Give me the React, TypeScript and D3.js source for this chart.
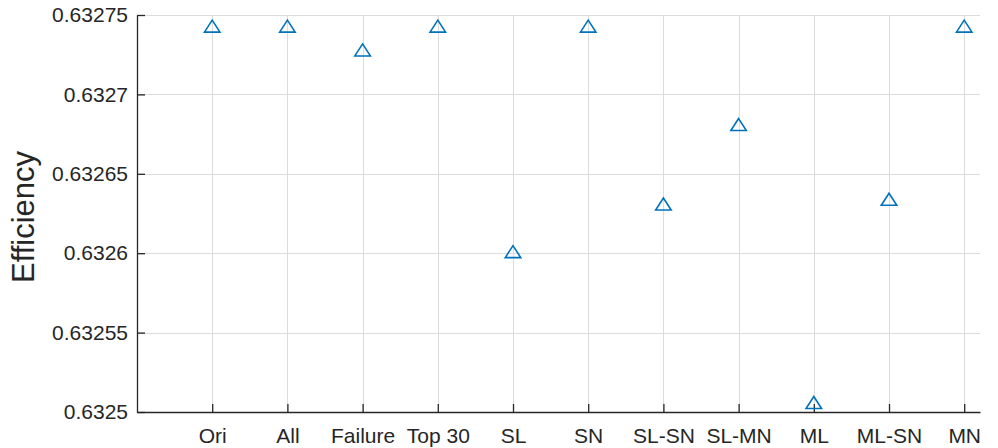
import React, { useEffect, useRef } from 'react';
import * as d3 from 'd3';

const categories = ['Ori', 'All', 'Failure', 'Top 30', 'SL', 'SN', 'SL-SN', 'SL-MN', 'ML', 'ML-SN', 'MN'];
const efficiency = [0.632743, 0.632743, 0.632728, 0.632743, 0.632601, 0.632743, 0.632631, 0.632681, 0.632506, 0.632634, 0.632743];
const yTicks = [0.6325, 0.63255, 0.6326, 0.63265, 0.6327, 0.63275];
const yTickLabels = ['0.6325', '0.63255', '0.6326', '0.63265', '0.6327', '0.63275'];

const w = 998;
const h = 448;
const left = 137;
const right = 980;
const top = 15;
const bottom = 412;
const font = '"Liberation Sans", Arial, Helvetica, sans-serif';
const ink = '#262626';

const App = () => {
  const svgRef = useRef(null);

  useEffect(() => {
    const svg = d3.select(svgRef.current);
    svg.selectAll('*').remove();

    const x = d3.scaleLinear().domain([0, 11.21]).range([left, right]);
    const y = d3.scaleLinear().domain([0.6325, 0.63275]).range([bottom, top]);
    const idx = categories.map((_, i) => i + 1);

    // grid
    const grid = svg.append('g').attr('stroke', '#dcdcdc').attr('stroke-width', 1);
    grid.selectAll('line.gx')
      .data(idx)
      .enter()
      .append('line')
      .attr('x1', (d) => Math.round(x(d)) + 0.5)
      .attr('x2', (d) => Math.round(x(d)) + 0.5)
      .attr('y1', top)
      .attr('y2', bottom);
    grid.selectAll('line.gy')
      .data(yTicks)
      .enter()
      .append('line')
      .attr('x1', left)
      .attr('x2', right)
      .attr('y1', (d) => Math.round(y(d)) + 0.5)
      .attr('y2', (d) => Math.round(y(d)) + 0.5);

    const xAxis = d3.axisBottom(x)
      .tickValues(idx)
      .tickFormat((d) => categories[d - 1])
      .tickSizeInner(-8)
      .tickSizeOuter(0)
      .tickPadding(16);

    const yAxis = d3.axisLeft(y)
      .tickValues(yTicks)
      .tickFormat((d, i) => yTickLabels[i])
      .tickSizeInner(-8)
      .tickSizeOuter(0)
      .tickPadding(9);

    const gx = svg.append('g')
      .attr('transform', 'translate(0,' + bottom + ')')
      .call(xAxis);
    const gy = svg.append('g')
      .attr('transform', 'translate(' + left + ',0)')
      .call(yAxis);

    [gx, gy].forEach((g) => {
      g.attr('font-family', font).attr('font-size', 21);
      g.selectAll('path, line').attr('stroke', ink).attr('stroke-width', 1.3);
      g.selectAll('text').attr('fill', ink);
    });

    // markers
    const tw = 15.5;
    const th = 12;
    const tri = 'M0,' + (-th / 2) + 'L' + tw / 2 + ',' + th / 2 + 'L' + (-tw / 2) + ',' + th / 2 + 'Z';
    svg.append('g')
      .selectAll('path')
      .data(efficiency)
      .enter()
      .append('path')
      .attr('d', tri)
      .attr('transform', (d, i) => 'translate(' + x(i + 1) + ',' + y(d) + ')')
      .attr('fill', 'none')
      .attr('stroke', '#0072BD')
      .attr('stroke-width', 1.6);

    svg.append('text')
      .attr('transform', 'translate(34,' + 217 + ') rotate(-90)')
      .attr('text-anchor', 'middle')
      .attr('font-family', font)
      .attr('font-size', 31)
      .attr('fill', ink)
      .text('Efficiency');
  }, []);

  return (
    <div style={{ position: 'absolute', left: 0, top: 0 }}>
      <svg ref={svgRef} width={w} height={h} style={{ display: 'block', background: '#fff' }}></svg>
    </div>
  );
};

export default App;
